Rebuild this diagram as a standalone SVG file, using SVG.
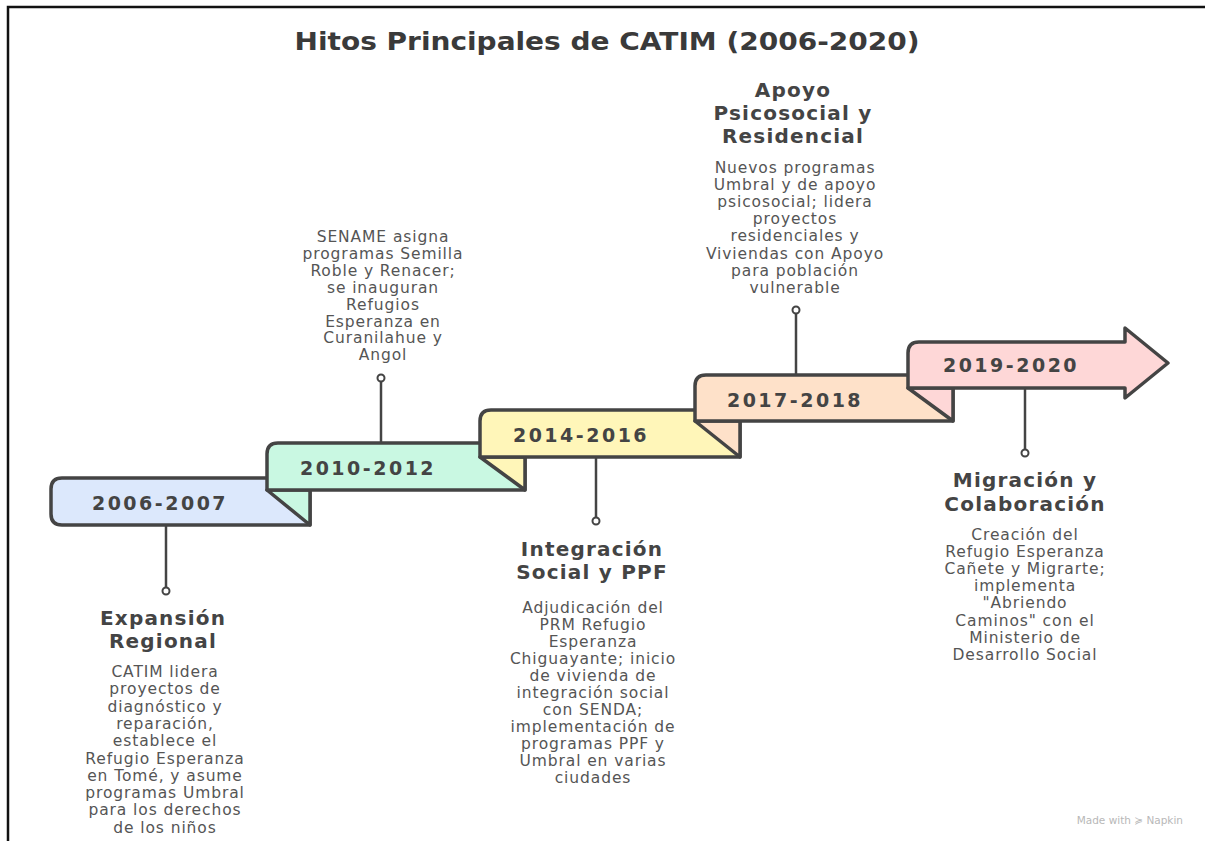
<svg xmlns="http://www.w3.org/2000/svg" width="1205" height="841" viewBox="0 0 1205 841">
<style>
.box{stroke:#444;stroke-width:3.5;stroke-linejoin:round}
.yr{font-family:"DejaVu Sans",sans-serif;font-weight:bold;font-size:19px;fill:#444;letter-spacing:2.5px;text-anchor:middle}
.hd{font-family:"DejaVu Sans",sans-serif;font-weight:bold;font-size:20px;fill:#444;text-anchor:middle;letter-spacing:1.2px}
.bd{font-family:"DejaVu Sans",sans-serif;font-size:15.5px;fill:#555;text-anchor:middle;letter-spacing:0.9px}
.ln{stroke:#444;stroke-width:2.5;fill:none}
.dot{stroke:#444;stroke-width:2;fill:#fff}
</style>
<rect width="1205" height="841" fill="#fff"/>
<path d="M8,841 L8,7 L1205,7" fill="none" stroke="#111" stroke-width="2.5"/>
<text x="607" y="50" textLength="625" lengthAdjust="spacingAndGlyphs" style="font-family:'DejaVu Sans',sans-serif;font-weight:bold;font-size:25px;fill:#3a3a3a;text-anchor:middle">Hitos Principales de CATIM (2006-2020)</text>

<g id="connectors">
<line class="ln" x1="166" y1="525" x2="166" y2="588"/><circle class="dot" cx="166" cy="591" r="3.5"/>
<line class="ln" x1="381" y1="443" x2="381" y2="381"/><circle class="dot" cx="381" cy="378" r="3.5"/>
<line class="ln" x1="596" y1="457" x2="596" y2="518"/><circle class="dot" cx="596" cy="521" r="3.5"/>
<line class="ln" x1="796" y1="375" x2="796" y2="313"/><circle class="dot" cx="796" cy="310" r="3.5"/>
<line class="ln" x1="1025" y1="388" x2="1025" y2="450"/><circle class="dot" cx="1025" cy="453" r="3.5"/>
</g>

<g id="step1">
<path class="box" fill="#dce8fc" d="M62,478 L310,478 L310,525 L62,525 Q51,525 51,514 L51,489 Q51,478 62,478 Z"/>
<text class="yr" x="160" y="510">2006-2007</text>
</g>
<g id="step2">
<path class="box" fill="#c9f8e2" d="M267,490 L310,490 L310,525 Z"/>
<path class="box" fill="#c9f8e2" d="M278,443 L525,443 L525,490 L267,490 L267,454 Q267,443 278,443 Z"/>
<text class="yr" x="368" y="475">2010-2012</text>
</g>
<g id="step3">
<path class="box" fill="#fff6b9" d="M480,457 L525,457 L525,490 Z"/>
<path class="box" fill="#fff6b9" d="M491,410 L740,410 L740,457 L480,457 L480,421 Q480,410 491,410 Z"/>
<text class="yr" x="581" y="442">2014-2016</text>
</g>
<g id="step4">
<path class="box" fill="#fee1c9" d="M695,421 L740,421 L740,457 Z"/>
<path class="box" fill="#fee1c9" d="M706,375 L953,375 L953,421 L695,421 L695,386 Q695,375 706,375 Z"/>
<text class="yr" x="795" y="407">2017-2018</text>
</g>
<g id="step5">
<path class="box" fill="#fed7d7" d="M908,388 L953,388 L953,421 Z"/>
<path class="box" fill="#fed7d7" d="M919,342 L1125,342 L1125,328 L1168,363 L1125,398 L1125,388 L908,388 L908,353 Q908,342 919,342 Z"/>
<text class="yr" x="1011" y="372">2019-2020</text>
</g>

<g id="text1">
<text class="hd" x="163" y="625">Expansión</text>
<text class="hd" x="163" y="648">Regional</text>
<text class="bd" x="165" y="677">CATIM lidera</text>
<text class="bd" x="165" y="694.3">proyectos de</text>
<text class="bd" x="165" y="711.6">diagnóstico y</text>
<text class="bd" x="165" y="728.9">reparación,</text>
<text class="bd" x="165" y="746.2">establece el</text>
<text class="bd" x="165" y="763.5">Refugio Esperanza</text>
<text class="bd" x="165" y="780.8">en Tomé, y asume</text>
<text class="bd" x="165" y="798.1">programas Umbral</text>
<text class="bd" x="165" y="815.4">para los derechos</text>
<text class="bd" x="165" y="832.7">de los niños</text>
</g>
<g id="text2">
<text class="bd" x="383" y="242">SENAME asigna</text>
<text class="bd" x="383" y="258.9">programas Semilla</text>
<text class="bd" x="383" y="275.8">Roble y Renacer;</text>
<text class="bd" x="383" y="292.7">se inauguran</text>
<text class="bd" x="383" y="309.6">Refugios</text>
<text class="bd" x="383" y="326.5">Esperanza en</text>
<text class="bd" x="383" y="343.4">Curanilahue y</text>
<text class="bd" x="383" y="360.3">Angol</text>
</g>
<g id="text3">
<text class="hd" x="592" y="556">Integración</text>
<text class="hd" x="592" y="579">Social y PPF</text>
<text class="bd" x="593" y="613">Adjudicación del</text>
<text class="bd" x="593" y="630">PRM Refugio</text>
<text class="bd" x="593" y="647">Esperanza</text>
<text class="bd" x="593" y="664">Chiguayante; inicio</text>
<text class="bd" x="593" y="681">de vivienda de</text>
<text class="bd" x="593" y="698">integración social</text>
<text class="bd" x="593" y="715">con SENDA;</text>
<text class="bd" x="593" y="732">implementación de</text>
<text class="bd" x="593" y="749">programas PPF y</text>
<text class="bd" x="593" y="766">Umbral en varias</text>
<text class="bd" x="593" y="783">ciudades</text>
</g>
<g id="text4">
<text class="hd" x="793" y="97">Apoyo</text>
<text class="hd" x="793" y="120">Psicosocial y</text>
<text class="hd" x="793" y="143">Residencial</text>
<text class="bd" x="795" y="173">Nuevos programas</text>
<text class="bd" x="795" y="190.1">Umbral y de apoyo</text>
<text class="bd" x="795" y="207.2">psicosocial; lidera</text>
<text class="bd" x="795" y="224.3">proyectos</text>
<text class="bd" x="795" y="241.4">residenciales y</text>
<text class="bd" x="795" y="258.5">Viviendas con Apoyo</text>
<text class="bd" x="795" y="275.6">para población</text>
<text class="bd" x="795" y="292.7">vulnerable</text>
</g>
<g id="text5">
<text class="hd" x="1025" y="487">Migración y</text>
<text class="hd" x="1025" y="511">Colaboración</text>
<text class="bd" x="1025" y="540">Creación del</text>
<text class="bd" x="1025" y="557.1">Refugio Esperanza</text>
<text class="bd" x="1025" y="574.2">Cañete y Migrarte;</text>
<text class="bd" x="1025" y="591.3">implementa</text>
<text class="bd" x="1025" y="608.4">"Abriendo</text>
<text class="bd" x="1025" y="625.5">Caminos" con el</text>
<text class="bd" x="1025" y="642.6">Ministerio de</text>
<text class="bd" x="1025" y="659.7">Desarrollo Social</text>
</g>
<text x="1183" y="824" style="font-family:'DejaVu Sans',sans-serif;font-size:10.5px;fill:#b8b8b8;text-anchor:end">Made with ≽ Napkin</text>
</svg>
